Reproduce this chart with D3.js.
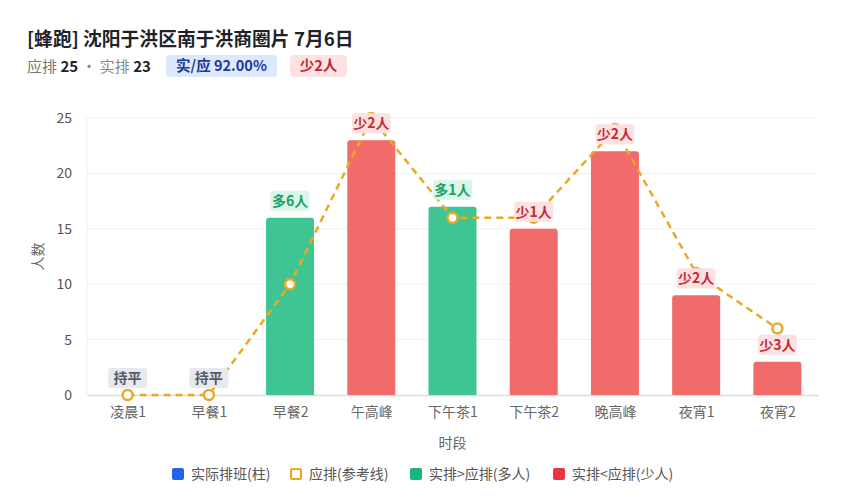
<!DOCTYPE html>
<html><head><meta charset="utf-8">
<script src="https://cdn.jsdelivr.net/npm/d3@7/dist/d3.min.js"></script>
<style>
body{margin:0;background:#fff;font-family:"Noto Sans CJK SC","Noto Sans",sans-serif;}
</style></head>
<body><svg id="c" width="850" height="500"></svg>
<script>
const categories = ["凌晨1","早餐1","早餐2","午高峰","下午茶1","下午茶2","晚高峰","夜宵1","夜宵2"];
const actual = [0,0,16,23,17,15,22,9,3];
const expected = [0,0,10,25,16,16,24,11,6];
const yTicks = [0,5,10,15,20,25];
const legendItems = ["实际排班(柱)","应排(参考线)","实排>应排(多人)","实排<应排(少人)"];
const titleText = "[蜂跑] 沈阳于洪区南于洪商圈片 7月6日";
const totalExpected = 25, totalActual = 23;

const svg = d3.select("#c");
const font = '"Noto Sans CJK SC","Noto Sans",sans-serif';
const W=850,H=500;
const m={l:87,r:32,t:118,b:105};
const xc = d3.scalePoint().domain(categories).range([m.l,W-m.r]).padding(0.5);
const y = d3.scaleLinear().domain([0,25]).range([H-m.b,m.t]);

// title
svg.append("text").attr("x",27).attr("y",46).attr("font-size",18.8).attr("font-weight",700)
  .attr("fill","#1f2329").attr("font-family",font).text(titleText);
const sub = svg.append("text").attr("x",27).attr("y",72).attr("font-size",15).attr("font-family",font);
sub.append("tspan").attr("fill","#777").text("应排 ");
sub.append("tspan").attr("fill","#222").attr("font-weight",700).text(totalExpected);
sub.append("tspan").attr("fill","#888").text(" · 实排 ");
sub.append("tspan").attr("fill","#222").attr("font-weight",700).text(totalActual);
function badge(x0,yc,txt,bg,fg,w){
  svg.append("rect").attr("x",x0).attr("y",yc-11).attr("width",w).attr("height",22).attr("rx",4).attr("fill",bg);
  svg.append("text").attr("x",x0+w/2).attr("y",yc+5).attr("text-anchor","middle").attr("font-size",14.5)
    .attr("font-weight",700).attr("fill",fg).attr("font-family",font).text(txt);
}
const ratio = (totalActual/totalExpected*100).toFixed(2);
badge(166,66,"实/应 "+ratio+"%","#dce8fb","#1e3a9a",111);
badge(290,66,"少"+(totalExpected-totalActual)+"人","#fde2e4","#c5222c",57);

// grid
const g = svg.append("g");
g.selectAll(".grid").data(yTicks.filter(d=>d>0)).join("line")
  .attr("x1",m.l).attr("x2",W-m.r).attr("y1",d=>y(d)).attr("y2",d=>y(d))
  .attr("stroke","#f0f0f0").attr("stroke-width",1);
g.append("line").attr("x1",m.l).attr("x2",m.l).attr("y1",m.t).attr("y2",H-m.b).attr("stroke","#f0f0f0");

// y axis
const ya = svg.append("g").attr("transform",`translate(${m.l},0)`)
  .call(d3.axisLeft(y).tickValues(yTicks).tickSize(0).tickPadding(15));
ya.select(".domain").remove();
ya.selectAll("text").attr("font-size",14).attr("fill","#555").attr("font-family",font);

// x axis
const xa = svg.append("g").attr("transform",`translate(0,${H-m.b})`)
  .call(d3.axisBottom(xc).tickSize(0).tickPadding(12));
xa.select(".domain").attr("stroke","#ddd").attr("stroke-width",1.5);
xa.selectAll("text").attr("font-size",14).attr("fill","#666").attr("font-family",font);

svg.append("text").attr("x",(m.l+W-m.r)/2).attr("y",448).attr("text-anchor","middle")
  .attr("font-size",14).attr("fill","#666").attr("font-family",font).text("时段");
svg.append("text").attr("transform",`translate(43,${(m.t+H-m.b)/2}) rotate(-90)`).attr("text-anchor","middle")
  .attr("font-size",14).attr("fill","#666").attr("font-family",font).text("人数");

// bars
const green="#3ec592", red="#f26b6b";
const bw=48;
const data = categories.map((c,i)=>({c,a:actual[i],e:expected[i],d:actual[i]-expected[i]}));
svg.append("g").selectAll("path").data(data.filter(d=>d.a>0)).join("path")
  .attr("d",d=>{
    const x0=xc(d.c)-bw/2, y0=y(d.a), y1=y(0), r=3;
    return `M${x0},${y1}V${y0+r}Q${x0},${y0} ${x0+r},${y0}H${x0+bw-r}Q${x0+bw},${y0} ${x0+bw},${y0+r}V${y1}Z`;
  })
  .attr("fill",d=>d.d>0?green:red);

// line
const line = d3.line().x(d=>xc(d.c)).y(d=>y(d.e));
svg.append("path").datum(data).attr("d",line).attr("fill","none")
  .attr("stroke","#eaa923").attr("stroke-width",2.5).attr("stroke-dasharray","7,5");
svg.append("g").selectAll("circle").data(data).join("circle")
  .attr("cx",d=>xc(d.c)).attr("cy",d=>y(d.e)).attr("r",5)
  .attr("fill","#fff").attr("stroke","#eaa923").attr("stroke-width",2.5);

// labels
const lg = svg.append("g");
data.forEach(d=>{
  const txt = d.d===0?"持平":(d.d>0?"多"+d.d+"人":"少"+(-d.d)+"人");
  const bg = d.d===0?"#e6e8ee":(d.d>0?"#d8f5e7":"#fde0e3");
  const fg = d.d===0?"#555a66":(d.d>0?"#19a06a":"#c8282f");
  const cy = y(d.a)-17;
  const w = 39;
  lg.append("rect").attr("x",xc(d.c)-w/2).attr("y",cy-10).attr("width",w).attr("height",20).attr("rx",3)
    .attr("fill",bg).attr("opacity",0.95);
  lg.append("text").attr("x",xc(d.c)).attr("y",cy+5).attr("text-anchor","middle").attr("font-size",14)
    .attr("font-weight",700).attr("fill",fg).attr("font-family",font).text(txt);
});

// legend
const legColors=["#2563eb",null,"#18b67a","#e8363e"];
const legX=[172,290,410,553];
legendItems.forEach((t,i)=>{
  const gx=legX[i], gy=474;
  if(legColors[i]) svg.append("rect").attr("x",gx).attr("y",gy-6).attr("width",12).attr("height",12).attr("rx",2).attr("fill",legColors[i]);
  else svg.append("rect").attr("x",gx+1).attr("y",gy-5).attr("width",10).attr("height",10).attr("rx",1.5).attr("fill","#fff").attr("stroke","#e6a817").attr("stroke-width",2);
  svg.append("text").attr("x",gx+19).attr("y",gy+5).attr("font-size",14).attr("fill","#555").attr("font-family",font).text(t);
});
</script></body></html>
